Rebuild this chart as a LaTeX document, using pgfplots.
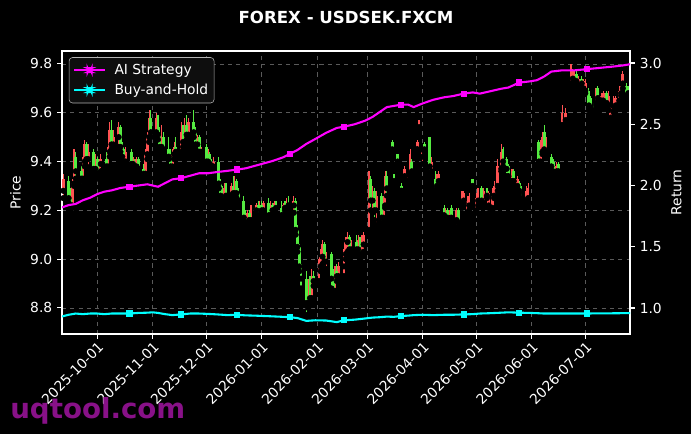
\documentclass[border=0pt]{standalone}
\usepackage{fontspec}
\setmainfont{DejaVu Sans}
\usepackage{pgfplots}
\usepackage{pgfplotstable}
\pgfplotsset{compat=1.18}

\definecolor{candleup}{RGB}{255,82,82}
\definecolor{candledn}{RGB}{85,235,65}
\definecolor{aimag}{RGB}{255,0,255}
\definecolor{bhcyan}{RGB}{0,255,255}
\definecolor{wmark}{RGB}{136,17,136}
\definecolor{gridgray}{RGB}{90,90,90}
\definecolor{legframe}{RGB}{180,180,180}
\definecolor{legfill}{RGB}{14,14,14}

% days since 2025-10-01: open high low close
\pgfplotstableread{
d o h l c
-19 9.28 9.35 9.25 9.33
-14 9.22 9.33 9.21 9.31
-13 9.31 9.45 9.30 9.42
-8 9.33 9.42 9.32 9.40
-7 9.40 9.49 9.38 9.47
-5 9.41 9.47 9.37 9.44
-1 9.37 9.43 9.35 9.41
1 9.35 9.41 9.34 9.39
2 9.39 9.43 9.36 9.41
6 9.38 9.46 9.37 9.44
7 9.44 9.56 9.42 9.53
9 9.47 9.53 9.45 9.50
12 9.50 9.56 9.46 9.54
16 9.40 9.46 9.38 9.44
20 9.39 9.42 9.37 9.40
22 9.38 9.42 9.36 9.41
27 9.35 9.45 9.34 9.43
28 9.43 9.52 9.41 9.50
29 9.50 9.61 9.48 9.58
33 9.52 9.60 9.50 9.58
36 9.46 9.55 9.44 9.50
42 9.38 9.45 9.37 9.43
43 9.43 9.48 9.41 9.46
47 9.44 9.56 9.43 9.52
49 9.48 9.58 9.47 9.55
51 9.51 9.58 9.50 9.56
56 9.47 9.51 9.44 9.50
58 9.44 9.47 9.40 9.46
62 9.40 9.45 9.39 9.43
65 9.38 9.42 9.36 9.40
71 9.24 9.31 9.23 9.29
75 9.26 9.31 9.25 9.30
77 9.27 9.34 9.26 9.32
84 9.15 9.20 9.14 9.19
86 9.16 9.22 9.15 9.20
89 9.20 9.23 9.16 9.22
91 9.18 9.24 9.17 9.22
93 9.20 9.24 9.19 9.23
97 9.18 9.24 9.17 9.22
99 9.20 9.24 9.19 9.23
104 9.18 9.23 9.17 9.22
106 9.21 9.25 9.20 9.23
110 9.22 9.26 9.19 9.24
118 8.82 8.92 8.80 8.90
120 8.84 8.96 8.83 8.93
124 8.91 9.00 8.90 8.97
125 8.97 9.04 8.95 9.01
126 9.01 9.08 8.98 9.06
128 8.99 9.03 8.96 9.02
133 8.87 8.97 8.86 8.95
135 8.93 8.99 8.91 8.97
138 8.97 9.04 8.93 9.02
139 9.02 9.09 9.00 9.07
140 9.07 9.11 9.03 9.09
142 9.04 9.08 9.03 9.07
146 9.04 9.10 9.02 9.08
148 9.02 9.10 9.01 9.06
149 9.06 9.11 9.03 9.10
152 9.12 9.36 9.11 9.33
154 9.24 9.30 9.19 9.28
156 9.20 9.28 9.14 9.26
160 9.17 9.26 9.15 9.22
161 9.22 9.36 9.21 9.34
172 9.34 9.38 9.33 9.37
173 9.32 9.35 9.30 9.34
175 9.35 9.45 9.34 9.43
179 9.45 9.49 9.45 9.48
180 9.54 9.57 9.54 9.56
182 9.42 9.46 9.39 9.44
187 9.36 9.42 9.35 9.40
190 9.30 9.35 9.29 9.33
191 9.32 9.36 9.28 9.35
195 9.17 9.21 9.16 9.20
197 9.14 9.20 9.12 9.19
201 9.16 9.21 9.13 9.20
204 9.22 9.28 9.21 9.26
205 9.24 9.28 9.23 9.27
207 9.19 9.26 9.18 9.24
208 9.22 9.27 9.20 9.26
212 9.20 9.27 9.19 9.25
213 9.24 9.29 9.22 9.28
216 9.23 9.29 9.22 9.28
219 9.22 9.28 9.21 9.27
221 9.21 9.29 9.20 9.26
222 9.26 9.32 9.25 9.30
224 9.30 9.41 9.28 9.38
226 9.37 9.47 9.36 9.44
232 9.32 9.37 9.31 9.35
235 9.30 9.34 9.29 9.33
240 9.24 9.30 9.23 9.28
241 9.25 9.31 9.22 9.29
248 9.40 9.49 9.39 9.47
249 9.44 9.52 9.43 9.50
251 9.44 9.50 9.42 9.48
257 9.36 9.40 9.34 9.38
260 9.55 9.63 9.54 9.60
262 9.57 9.62 9.56 9.60
265 9.72 9.80 9.71 9.78
266 9.74 9.78 9.71 9.77
267 9.72 9.77 9.71 9.75
269 9.71 9.75 9.70 9.74
272 9.70 9.74 9.69 9.73
273 9.69 9.74 9.68 9.72
279 9.64 9.70 9.63 9.68
282 9.65 9.68 9.64 9.67
283 9.65 9.69 9.64 9.68
286 9.63 9.69 9.61 9.67
287 9.58 9.63 9.56 9.62
289 9.61 9.67 9.60 9.64
290 9.63 9.67 9.62 9.66
292 9.65 9.71 9.64 9.69
293 9.68 9.72 9.67 9.71
294 9.72 9.77 9.70 9.76
}\upcandles

\pgfplotstableread{
d o h l c
-16 9.32 9.34 9.23 9.25
-15 9.25 9.29 9.20 9.22
-12 9.42 9.44 9.33 9.36
-9 9.36 9.38 9.30 9.33
-6 9.47 9.48 9.38 9.41
-2 9.44 9.45 9.35 9.37
0 9.41 9.42 9.33 9.35
5 9.41 9.44 9.37 9.38
8 9.53 9.57 9.45 9.47
13 9.54 9.55 9.44 9.46
14 9.46 9.48 9.40 9.42
15 9.42 9.45 9.38 9.40
19 9.44 9.45 9.37 9.39
21 9.40 9.41 9.36 9.38
23 9.41 9.42 9.35 9.37
26 9.37 9.39 9.34 9.35
30 9.58 9.61 9.50 9.52
34 9.58 9.59 9.49 9.51
35 9.51 9.54 9.44 9.46
37 9.50 9.52 9.43 9.45
40 9.45 9.50 9.41 9.42
41 9.42 9.45 9.37 9.38
44 9.46 9.50 9.43 9.44
48 9.52 9.55 9.46 9.48
50 9.55 9.59 9.49 9.51
54 9.56 9.61 9.50 9.52
55 9.52 9.54 9.45 9.47
57 9.50 9.51 9.42 9.44
61 9.46 9.47 9.38 9.40
63 9.43 9.44 9.37 9.39
64 9.39 9.41 9.36 9.38
68 9.40 9.42 9.29 9.31
69 9.31 9.33 9.24 9.26
70 9.26 9.30 9.23 9.24
72 9.29 9.31 9.25 9.26
76 9.30 9.34 9.26 9.27
78 9.32 9.33 9.25 9.27
79 9.27 9.29 9.23 9.24
82 9.24 9.26 9.15 9.17
83 9.17 9.20 9.14 9.15
85 9.19 9.20 9.14 9.16
90 9.22 9.24 9.17 9.18
92 9.22 9.24 9.19 9.20
96 9.23 9.25 9.16 9.18
98 9.22 9.23 9.18 9.20
100 9.23 9.24 9.19 9.21
103 9.21 9.24 9.16 9.18
105 9.22 9.24 9.20 9.21
107 9.23 9.26 9.20 9.22
111 9.24 9.25 9.10 9.12
112 9.12 9.14 9.03 9.05
113 9.05 9.06 8.95 8.97
114 8.97 8.98 8.88 8.92
117 8.92 8.95 8.77 8.82
119 8.90 8.93 8.81 8.84
121 8.93 8.95 8.89 8.91
127 9.06 9.07 8.96 8.99
131 9.02 9.03 8.88 8.92
132 8.92 8.96 8.85 8.87
134 8.95 8.98 8.91 8.93
141 9.09 9.10 9.03 9.04
145 9.07 9.10 9.02 9.04
147 9.08 9.09 9.00 9.02
153 9.33 9.34 9.20 9.24
155 9.28 9.29 9.16 9.20
159 9.26 9.27 9.14 9.17
162 9.34 9.36 9.26 9.29
165 9.48 9.49 9.44 9.45
166 9.34 9.35 9.31 9.32
168 9.43 9.43 9.39 9.40
170 9.30 9.31 9.28 9.28
176 9.40 9.41 9.34 9.36
183 9.47 9.48 9.44 9.45
186 9.50 9.50 9.34 9.38
189 9.33 9.36 9.26 9.28
194 9.21 9.22 9.16 9.18
196 9.20 9.21 9.15 9.17
198 9.21 9.22 9.15 9.17
202 9.20 9.21 9.13 9.15
210 9.33 9.33 9.29 9.30
215 9.29 9.30 9.22 9.24
218 9.28 9.29 9.25 9.26
227 9.45 9.46 9.38 9.40
229 9.41 9.42 9.34 9.37
230 9.38 9.39 9.32 9.34
233 9.36 9.37 9.30 9.32
236 9.31 9.32 9.27 9.28
237 9.29 9.30 9.23 9.25
247 9.48 9.49 9.38 9.40
250 9.52 9.55 9.44 9.45
254 9.42 9.43 9.36 9.38
255 9.40 9.41 9.35 9.36
258 9.39 9.40 9.35 9.36
268 9.76 9.77 9.72 9.73
271 9.74 9.75 9.70 9.72
275 9.69 9.70 9.61 9.63
276 9.66 9.67 9.61 9.62
278 9.64 9.65 9.60 9.61
280 9.70 9.71 9.64 9.66
285 9.68 9.69 9.62 9.64
296 9.71 9.72 9.66 9.67
297 9.70 9.71 9.66 9.68
}\dncandles

% returns: AI strategy and buy-and-hold
\pgfplotstableread{
d ai bh
-20 1.82 0.930
-16 1.84 0.945
-12 1.85 0.955
-8 1.88 0.950
-4 1.90 0.955
0 1.93 0.955
4 1.95 0.950
8 1.96 0.955
13 1.98 0.955
18 1.99 0.955
23 2.00 0.960
28 2.01 0.962
31 2.00 0.965
34 1.99 0.960
38 2.02 0.950
42 2.05 0.942
47 2.06 0.948
52 2.08 0.955
57 2.10 0.955
62 2.10 0.952
67 2.11 0.948
73 2.12 0.942
78 2.13 0.945
83 2.14 0.940
88 2.16 0.938
93 2.18 0.935
98 2.20 0.932
104 2.23 0.928
108 2.26 0.925
112 2.29 0.918
117 2.34 0.895
122 2.38 0.900
128 2.43 0.898
134 2.47 0.885
138 2.48 0.900
144 2.50 0.905
150 2.53 0.915
154 2.56 0.922
158 2.60 0.925
162 2.64 0.930
166 2.65 0.928
170 2.66 0.935
174 2.66 0.938
177 2.64 0.942
182 2.67 0.945
188 2.70 0.942
194 2.72 0.945
199 2.73 0.945
205 2.75 0.948
210 2.76 0.950
214 2.75 0.955
220 2.77 0.958
226 2.79 0.962
230 2.80 0.965
236 2.84 0.962
242 2.85 0.960
246 2.86 0.958
250 2.89 0.955
254 2.93 0.955
260 2.94 0.955
267 2.94 0.955
274 2.95 0.955
281 2.96 0.957
288 2.97 0.957
294 2.98 0.958
298 2.99 0.958
}\returns

\pgfplotsset{
  fxbase/.style={
    width=408.96bp, height=203.76bp, scale only axis,
    xmin=-19.7, xmax=298,
    axis line style={white, line width=0.8bp},
    tick style={white, line width=0.8bp},
    tick align=outside, major tick length=3.5bp,
    tick label style={text=white, font=\fontsize{10}{12}\selectfont},
    label style={text=white, font=\fontsize{10}{12}\selectfont},
    /pgf/number format/assume math mode=true,
    yticklabel style={/pgf/number format/.cd, fixed, fixed zerofill, precision=1},
  },
  wick/.style={only marks, mark=none, forget plot,
    error bars/.cd, y dir=plus, y explicit, error mark=none,
    error bar style={draw=#1, line width=0.8bp}},
  body/.style={only marks, mark=none, forget plot,
    error bars/.cd, y dir=plus, y explicit, error mark=none,
    error bar style={draw=#1, line width=2bp}},
}

\begin{document}
\begin{tikzpicture}
\fill[black] (-44.64bp,-72bp) rectangle (452.88bp,240.48bp);

\begin{axis}[fxbase,
  ymin=8.693, ymax=9.853,
  ytick={8.8,9.0,9.2,9.4,9.6,9.8},
  xtick={0,31,61,92,123,151,182,212,243,273},
  xticklabels={2025-10-01,2025-11-01,2025-12-01,2026-01-01,2026-02-01,2026-03-01,2026-04-01,2026-05-01,2026-06-01,2026-07-01},
  xticklabel style={rotate=45, anchor=north east, inner sep=1pt},
  xtick pos=bottom, ytick pos=left,
  grid=major, grid style={dashed, gridgray, line width=0.5bp},
  ylabel={Price},
]
\addplot[wick=candleup] table[x=d, y=l, y error plus expr=\thisrow{h}-\thisrow{l}] {\upcandles};
\addplot[body=candleup] table[x=d, y=o, y error plus expr=\thisrow{c}-\thisrow{o}] {\upcandles};
\addplot[wick=candledn] table[x=d, y=l, y error plus expr=\thisrow{h}-\thisrow{l}] {\dncandles};
\addplot[body=candledn] table[x=d, y=c, y error plus expr=\thisrow{o}-\thisrow{c}] {\dncandles};
\end{axis}

\begin{axis}[fxbase,
  axis y line*=right, axis x line=none,
  ymin=0.788, ymax=3.098,
  ytick={1.0,1.5,2.0,2.5,3.0},
  ylabel={Return},
  legend style={at={(0.012,0.978)}, anchor=north west, fill=legfill, draw=legframe,
    text=white, rounded corners=2.5pt, font=\fontsize{10}{12}\selectfont,
    inner xsep=3bp, inner ysep=3.5bp, row sep=3bp,
    nodes={inner sep=1.2bp},
    /tikz/every odd column/.append style={column sep=5bp}},
  legend cell align=left,
]
\addplot[aimag, line width=1.5bp, mark=square*, mark size=1.5bp,
  mark indices={9,16,22,28,34,41,48,54,61},
  legend image code/.code={\path[draw=aimag, line width=1.5bp] (0bp,0bp) -- (22bp,0bp);
    \path[fill=aimag] (9.6bp,-1.4bp) rectangle (12.4bp,1.4bp);}]
  table[x=d, y=ai] {\returns};
\addlegendentry{AI Strategy}
\addplot[bhcyan, line width=1.5bp, mark=square*, mark size=1.5bp,
  mark indices={9,16,22,28,34,41,48,54,61},
  legend image code/.code={\path[draw=bhcyan, line width=1.5bp] (0bp,0bp) -- (22bp,0bp);
    \path[fill=bhcyan] (9.6bp,-1.4bp) rectangle (12.4bp,1.4bp);}]
  table[x=d, y=bh] {\returns};
\addlegendentry{Buy-and-Hold}
\end{axis}

\node[anchor=base, text=white, font=\bfseries\fontsize{12}{14}\selectfont] at (204.48bp,223.2bp) {FOREX - USDSEK.FXCM};
\node[anchor=base west, inner sep=0pt, text=wmark, font=\bfseries\fontsize{20}{24}\selectfont] at (-37.44bp,-60.48bp) {uqtool.com};

\pgfresetboundingbox
\useasboundingbox (-44.64bp,-72bp) rectangle (452.88bp,240.48bp);
\end{tikzpicture}
\end{document}
